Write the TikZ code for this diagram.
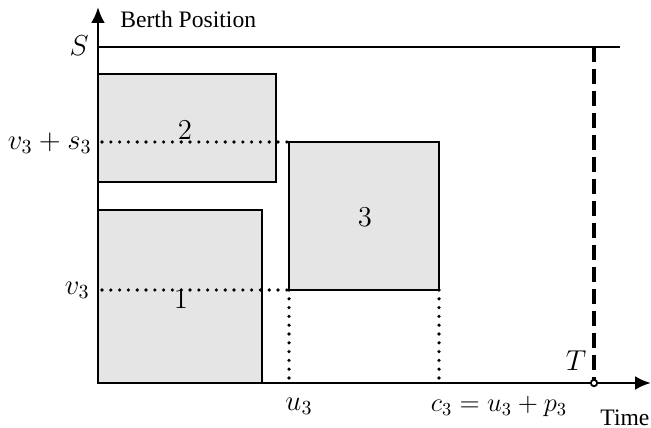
\documentclass[tikz,border=0pt]{standalone}
\usepackage[no-math]{fontspec}
\usepackage{graphicx}
\setmainfont{Liberation Serif}
\usetikzlibrary{arrows.meta}
\begin{document}
\begin{tikzpicture}[x=0.5pt,y=-0.5pt,
  axis/.style={line width=1.4pt,-{Latex[length=8pt,width=7pt]}},
  frame/.style={line width=1.4pt},
  slot/.style={draw,line width=1.4pt,fill=black!10},
  guide/.style={line width=1.8pt,line cap=round,dash pattern=on 0pt off 4.4pt},
  horizon/.style={line width=1.8pt,dash pattern=on 7.5pt off 3.5pt},
  lbl/.style={inner sep=0pt,font=\Large},
  txt/.style={inner sep=0pt,font=\fontsize{11.8pt}{14pt}\selectfont}]
\useasboundingbox (0,0) rectangle (651,427);

% axes
\coordinate (O) at (98,383);
\coordinate (ytop) at (98,7);
\coordinate (xend) at (651,383);
\draw[axis] (O) -- (ytop);
\draw[axis] (O) -- (xend);

% upper limit S
\coordinate (s0) at (98,47);
\coordinate (s1) at (620,47);
\draw[frame] (s0) -- (s1);

% vessels
\draw[slot] (98,74) rectangle (276,182);
\draw[slot] (98,210) rectangle (262,383);
\draw[slot] (289,142) rectangle (439,290);
\node[lbl] (n1) at (181,299) {$1$};
\node[lbl] (n2) at (185,130) {$2$};
\node[lbl] (n3) at (365,217) {$3$};

% guide lines for vessel 3
\coordinate (a1) at (102,142);
\coordinate (a2) at (289,142);
\coordinate (b1) at (102,290);
\coordinate (b2) at (289,290);
\coordinate (u0) at (289,383);
\coordinate (c0) at (439,290);
\coordinate (c1) at (439,383);
\draw[guide] (a1) -- (a2);
\draw[guide] (b1) -- (b2);
\draw[guide] (b2) -- (u0);
\draw[guide] (c0) -- (c1);

% planning horizon
\coordinate (t0) at (594,47);
\coordinate (t1) at (594,383);
\draw[horizon] (t0) -- (t1);
\draw[line width=0.9pt,fill=white] (t1) circle (3.2);

% labels
\node[txt,anchor=base west] (yl) at (120,28) {Berth Position};
\node[txt,anchor=base west] (xl) at (600,425) {Time};
\node[lbl,anchor=east] (ls) at (89,46) {$S$};
\node[lbl,anchor=east] (lvs) at (92,143) {$v_3+s_3$};
\node[lbl,anchor=east] (lv) at (90,290) {$v_3$};
\node[lbl] (lu) at (299,406) {$u_3$};
\node[lbl] (lc) at (499,406) {\scalebox{0.92}{$c_3=u_3+p_3$}};
\node[lbl] (lt) at (576,361) {$T$};
\end{tikzpicture}
\end{document}
